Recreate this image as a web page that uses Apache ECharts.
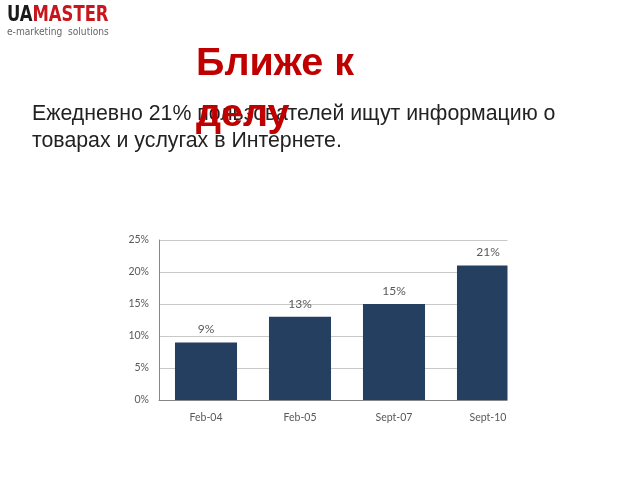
<!DOCTYPE html>
<html><head><meta charset="utf-8">
<script src="https://cdn.jsdelivr.net/npm/echarts@6/dist/echarts.min.js"></script>
<style>html,body{margin:0;padding:0;background:#fff}#c{width:640px;height:480px}</style>
</head><body><div id="c"></div>
<script>
var categories = ['Feb-04', 'Feb-05', 'Sept-07', 'Sept-10'];
var values = [9, 13, 15, 21];
var yTicks = [0, 5, 10, 15, 20, 25];

var chart = echarts.init(document.getElementById('c'), null, {renderer: 'canvas'});
chart.setOption({
  backgroundColor: '#ffffff',
  animation: false,
  graphic: [
    { type: 'text', left: 7, top: 5, scaleX: 0.87, style: {
        text: '{a|UA}{b|MASTER}', rich: {
          a: { fontFamily: 'DejaVu Sans Condensed, Liberation Sans Narrow, sans-serif', fontWeight: 'bold', fontSize: 21, fill: '#1a1a1a' },
          b: { fontFamily: 'DejaVu Sans Condensed, Liberation Sans Narrow, sans-serif', fontWeight: 'bold', fontSize: 21, fill: '#c8161d' }
        } } },
    { type: 'text', left: 7, top: 27, scaleX: 0.92, style: { text: 'e-marketing  solutions', fontFamily: 'DejaVu Sans Condensed, Liberation Sans Narrow, sans-serif', fontSize: 11, fill: '#666666' } },
    { type: 'text', left: 32, top: 101, style: { text: 'Ежедневно 21% пользователей ищут информацию о\nтоварах и услугах в Интернете.', fontFamily: 'Liberation Sans, Arial, sans-serif', fontSize: 21.3, lineHeight: 27, fill: '#222222' } },
    { type: 'text', left: 196, top: 39, style: { text: 'Ближе к\nделу', fontFamily: 'Liberation Sans, Arial, sans-serif', fontWeight: 'bold', fontSize: 39.5, lineHeight: 51, fill: '#c00000' } },
    { type: 'rect', z: 100, shape: { x: 507.5, y: 230, width: 40, height: 171.5 }, style: { fill: '#ffffff' } }
  ],
  grid: { left: 159, right: 105, top: 240, bottom: 80 },
  xAxis: {
    type: 'category', data: categories,
    axisLine: { lineStyle: { color: '#868686' } },
    axisTick: { show: false },
    axisLabel: { color: '#595959', fontSize: 10.5, margin: 12, fontFamily: 'Lato, Liberation Sans, sans-serif' }
  },
  yAxis: {
    type: 'value', min: 0, max: 25, interval: 5,
    axisLine: { show: true, lineStyle: { color: '#868686' } },
    axisTick: { show: false },
    splitLine: { lineStyle: { color: '#c8c8c8' } },
    axisLabel: { color: '#595959', fontSize: 10.5, margin: 10, fontFamily: 'Lato, Liberation Sans, sans-serif', formatter: function (v) { return v + '%'; } }
  },
  series: [{
    type: 'bar', data: values, barWidth: '66%',
    itemStyle: { color: '#243f60' },
    label: { show: true, position: 'top', distance: 7, color: '#595959', fontSize: 12, fontFamily: 'Lato, Liberation Sans, sans-serif', formatter: function (p) { return p.value + '%'; } }
  }]
});
</script></body></html>
